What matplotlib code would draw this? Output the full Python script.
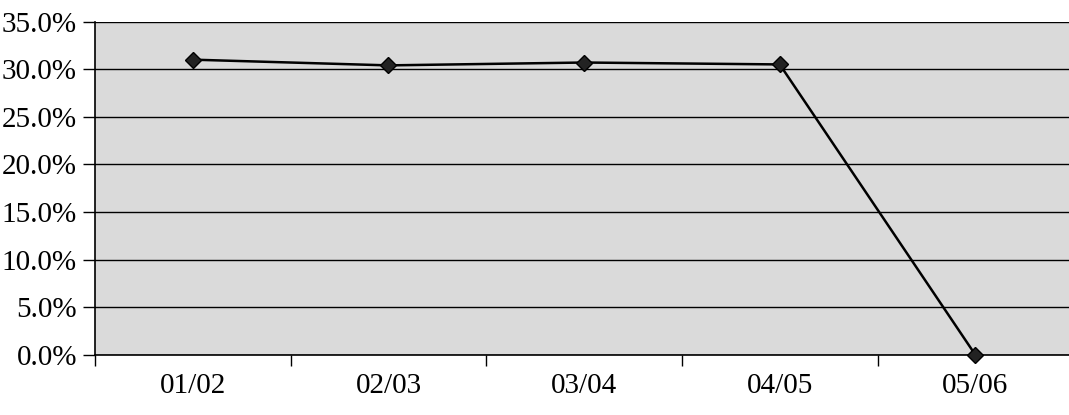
import matplotlib
matplotlib.use("Agg")
import matplotlib.pyplot as plt
from matplotlib.ticker import FuncFormatter, FixedLocator

periods = ["01/02", "02/03", "03/04", "04/05", "05/06"]
share_pct = [31.0, 30.4, 30.7, 30.5, 0.0]
y_ticks = [0, 5, 10, 15, 20, 25, 30, 35]

plt.rcParams["font.family"] = ["Liberation Serif", "DejaVu Serif"]

fig = plt.figure(figsize=(10.69, 4.15), dpi=100)
fig.patch.set_facecolor("white")
ax = fig.add_axes([0.0889, 0.145, 0.915, 0.803])
ax.set_facecolor("#dadada")

x = list(range(len(periods)))
ax.plot(x, share_pct, color="black", lw=1.8, marker="D", markersize=8,
        markerfacecolor="#222222", markeredgecolor="black", zorder=3,
        clip_on=False)

ax.set_xlim(-0.5, len(periods) - 0.5)
ax.set_ylim(0, 35)
ax.yaxis.set_major_locator(FixedLocator(y_ticks))
ax.yaxis.set_major_formatter(FuncFormatter(lambda v, p: f"{v:.1f}%"))
ax.grid(axis="y", color="black", lw=1.0)
ax.set_axisbelow(True)

ax.set_xticks(x)
ax.set_xticklabels(periods)
ax.set_xticks([i - 0.5 for i in range(len(periods) + 1)], minor=True)
ax.tick_params(axis="x", which="major", length=0, pad=13, labelsize=21)
ax.tick_params(axis="x", which="minor", length=8, width=1, direction="out")
ax.tick_params(axis="y", length=9, width=1, direction="out", pad=4,
               labelsize=21)

for side in ["top", "right"]:
    ax.spines[side].set_visible(False)
ax.spines["left"].set_linewidth(1.2)
ax.spines["bottom"].set_linewidth(1.2)

fig.savefig("out.png", dpi=100)
